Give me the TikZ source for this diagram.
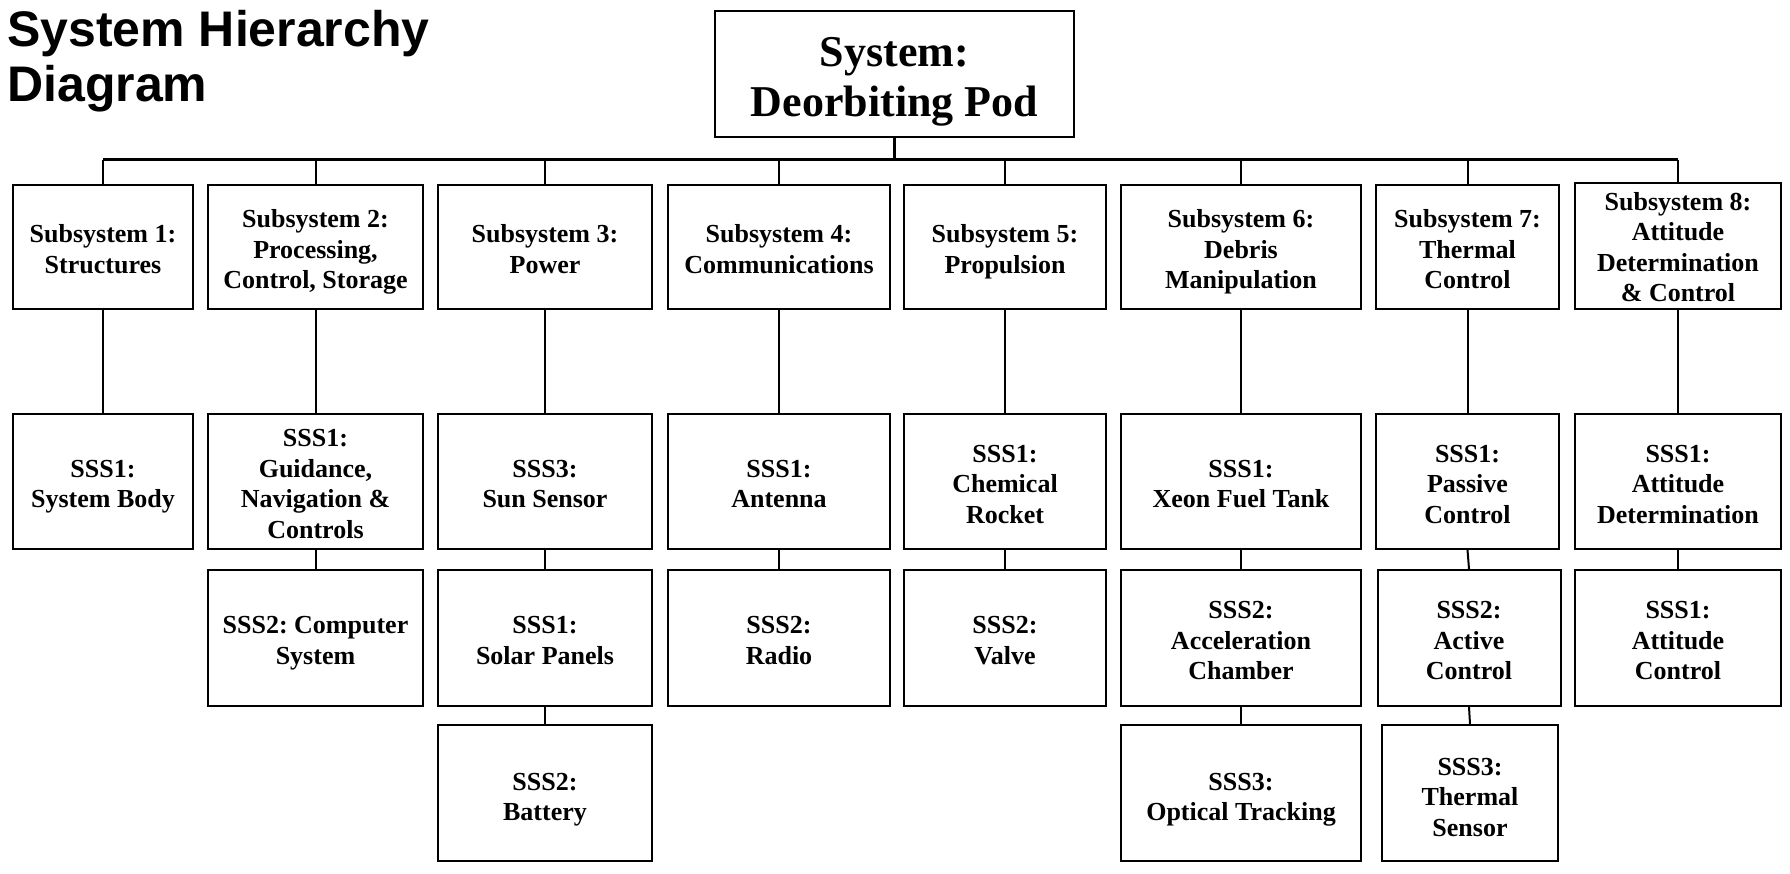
\documentclass[tikz,border=0pt]{standalone}
\usepackage{fontspec}
\setmainfont{Liberation Serif}
\newfontfamily\titlefont{Liberation Sans}
\newcommand\bt[2][5pt]{\raisebox{-#1}[\height][\depth]{\begin{tabular}{@{}c@{}}#2\end{tabular}}}
\begin{document}
\frenchspacing
\begin{tikzpicture}[x=1pt,y=-1pt,
  boxstyle/.style={draw, line width=2pt, inner sep=0pt,
    font=\bfseries\fontsize{26}{30.5}\selectfont},
  sysbox/.style={draw, line width=2pt, inner sep=0pt,
    font=\bfseries\fontsize{44}{50}\selectfont},
  titletext/.style={anchor=base west, inner sep=0pt,
    font=\titlefont\bfseries\fontsize{50}{54}\selectfont},
  link/.style={line width=2pt},
  buslink/.style={line width=3pt}]
\useasboundingbox (0,0) rectangle (1790,874);

% title
\node[titletext] (t1) at (7,47) {System Hierarchy};
\node[titletext] (t2) at (7,102) {Diagram};

% system
\node[sysbox, minimum width=359pt, minimum height=126pt] (sys) at (894.5,74) {\bt[8pt]{System:\\Deorbiting Pod}};

% subsystems
\node[boxstyle, minimum width=180pt, minimum height=124pt] (s1) at (103,247) {\bt{Subsystem 1:\\Structures}};
\node[boxstyle, minimum width=215pt, minimum height=124pt] (s2) at (315.5,247) {\bt{Subsystem 2:\\Processing,\\Control, Storage}};
\node[boxstyle, minimum width=214pt, minimum height=124pt] (s3) at (545,247) {\bt{Subsystem 3:\\Power}};
\node[boxstyle, minimum width=222pt, minimum height=124pt] (s4) at (779,247) {\bt{Subsystem 4:\\Communications}};
\node[boxstyle, minimum width=202pt, minimum height=124pt] (s5) at (1005,247) {\bt{Subsystem 5:\\Propulsion}};
\node[boxstyle, minimum width=240pt, minimum height=124pt] (s6) at (1241,247) {\bt{Subsystem 6:\\Debris\\Manipulation}};
\node[boxstyle, minimum width=183pt, minimum height=124pt] (s7) at (1467.5,247) {\bt{Subsystem 7:\\Thermal\\Control}};
\node[boxstyle, minimum width=206pt, minimum height=126pt] (s8) at (1678,246) {\bt[4pt]{Subsystem 8:\\Attitude\\Determination\\\& Control}};

% row 2
\node[boxstyle, minimum width=180pt, minimum height=135pt] (a1) at (103,481.5) {\bt{SSS1:\\System Body}};
\node[boxstyle, minimum width=215pt, minimum height=135pt] (a2) at (315.5,481.5) {\bt{SSS1:\\Guidance,\\Navigation \&\\Controls}};
\node[boxstyle, minimum width=214pt, minimum height=135pt] (a3) at (545,481.5) {\bt{SSS3:\\Sun Sensor}};
\node[boxstyle, minimum width=222pt, minimum height=135pt] (a4) at (779,481.5) {\bt{SSS1:\\Antenna}};
\node[boxstyle, minimum width=202pt, minimum height=135pt] (a5) at (1005,481.5) {\bt{SSS1:\\Chemical\\Rocket}};
\node[boxstyle, minimum width=240pt, minimum height=135pt] (a6) at (1241,481.5) {\bt{SSS1:\\Xeon Fuel Tank}};
\node[boxstyle, minimum width=183pt, minimum height=135pt] (a7) at (1467.5,481.5) {\bt{SSS1:\\Passive\\Control}};
\node[boxstyle, minimum width=206pt, minimum height=135pt] (a8) at (1678,481.5) {\bt{SSS1:\\Attitude\\Determination}};

% row 3
\node[boxstyle, minimum width=215pt, minimum height=136pt] (b2) at (315.5,638) {\bt{SSS2: Computer\\System}};
\node[boxstyle, minimum width=214pt, minimum height=136pt] (b3) at (545,638) {\bt{SSS1:\\Solar Panels}};
\node[boxstyle, minimum width=222pt, minimum height=136pt] (b4) at (779,638) {\bt{SSS2:\\Radio}};
\node[boxstyle, minimum width=202pt, minimum height=136pt] (b5) at (1005,638) {\bt{SSS2:\\Valve}};
\node[boxstyle, minimum width=240pt, minimum height=136pt] (b6) at (1241,638) {\bt{SSS2:\\Acceleration\\Chamber}};
\node[boxstyle, minimum width=183pt, minimum height=136pt] (b7) at (1469,638) {\bt{SSS2:\\Active\\Control}};
\node[boxstyle, minimum width=206pt, minimum height=136pt] (b8) at (1678,638) {\bt{SSS1:\\Attitude\\Control}};

% row 4
\node[boxstyle, minimum width=214pt, minimum height=136pt] (c3) at (545,793) {\bt[6.5pt]{SSS2:\\Battery}};
\node[boxstyle, minimum width=240pt, minimum height=136pt] (c6) at (1241,793) {\bt[6.5pt]{SSS3:\\Optical Tracking}};
\node[boxstyle, minimum width=176pt, minimum height=136pt] (c7) at (1470,793) {\bt[6.5pt]{SSS3:\\Thermal\\Sensor}};

% bus
\coordinate (bus) at (894.5,160);
\draw[buslink] (sys.south) -- (sys.south |- bus);
\draw[buslink] (s1.north |- bus) -- (s8.north |- bus);
\foreach \n in {s1,s2,s3,s4,s5,s6,s7,s8}
  \draw[link] (\n.north |- bus) -- (\n.north);

% vertical links
\foreach \i in {1,...,8}
  \draw[link] (s\i.south) -- (a\i.north);
\foreach \i in {2,...,8}
  \draw[link] (a\i.south) -- (b\i.north);
\draw[link] (b3.south) -- (c3.north);
\draw[link] (b6.south) -- (c6.north);
\draw[link] (b7.south) -- (c7.north);
\end{tikzpicture}
\end{document}
